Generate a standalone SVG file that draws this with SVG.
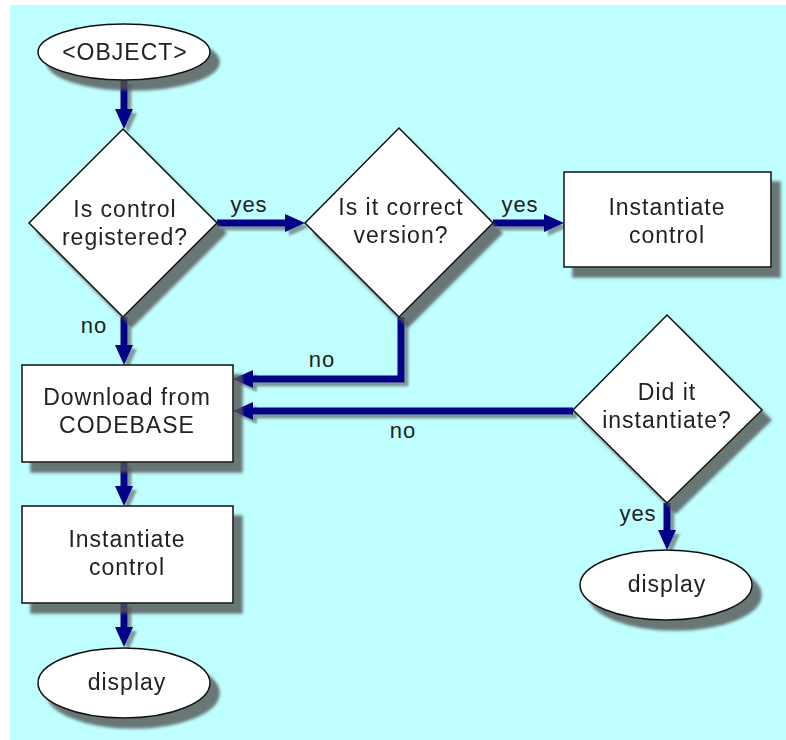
<svg xmlns="http://www.w3.org/2000/svg" width="786" height="740" viewBox="0 0 786 740">
<defs>
<style>
.node{fill:#fff;stroke:#111;stroke-width:1.5}
.t{font-family:"Liberation Sans",Arial,sans-serif;font-size:23px;letter-spacing:1px;fill:#222;text-anchor:middle}
.lbl{font-family:"Liberation Sans",Arial,sans-serif;font-size:22px;letter-spacing:1px;fill:#222;text-anchor:middle}
.conn{fill:none;stroke:#000088;stroke-width:7}
</style>
<filter id="sh" x="-20%" y="-20%" width="150%" height="150%">
<feDropShadow dx="9" dy="10" stdDeviation="1.5" flood-color="#555" flood-opacity="0.8"/>
</filter>
<filter id="shc" x="-20%" y="-20%" width="150%" height="150%">
<feDropShadow dx="4" dy="4" stdDeviation="1.2" flood-color="#555" flood-opacity="0.6"/>
</filter>
<marker id="ah" markerUnits="userSpaceOnUse" markerWidth="22" markerHeight="20" refX="8" refY="9" orient="auto">
<path d="M0,0 L20,9 L0,18 Z" fill="#000088"/>
</marker>
</defs>
<rect x="0" y="0" width="786" height="740" fill="#fff"/>
<rect x="10" y="5" width="776" height="735" fill="#bfffff"/>

<g id="connectors" filter="url(#shc)">
<path class="conn" d="M124,80 V117" marker-end="url(#ah)"/>
<path class="conn" d="M217,223 H293" marker-end="url(#ah)"/>
<path class="conn" d="M493,223 H552" marker-end="url(#ah)"/>
<path class="conn" d="M401,317 V379 H245" marker-end="url(#ah)"/>
<path class="conn" d="M573,411 H245" marker-end="url(#ah)"/>
<path class="conn" d="M124,317 V353" marker-end="url(#ah)"/>
<path class="conn" d="M124,462 V494" marker-end="url(#ah)"/>
<path class="conn" d="M124,603 V635" marker-end="url(#ah)"/>
<path class="conn" d="M667,503 V538" marker-end="url(#ah)"/>
</g>

<g id="labels">
<text class="lbl" x="249" y="212">yes</text>
<text class="lbl" x="520" y="212">yes</text>
<text class="lbl" x="94" y="333">no</text>
<text class="lbl" x="322" y="367">no</text>
<text class="lbl" x="403" y="438">no</text>
<text class="lbl" x="638" y="521">yes</text>
</g>

<g id="start" filter="url(#sh)">
<ellipse class="node" cx="124" cy="52" rx="86" ry="28"/>
<text class="t" x="125" y="60">&lt;OBJECT&gt;</text>
</g>

<g id="registered" filter="url(#sh)">
<polygon class="node" points="123,129 217,223 123,317 29,223"/>
<text class="t" x="125" y="217">Is control</text>
<text class="t" x="125" y="245">registered?</text>
</g>

<g id="version" filter="url(#sh)">
<polygon class="node" points="399,128 493,223 399,317 305,223"/>
<text class="t" x="401" y="215">Is it correct</text>
<text class="t" x="401" y="243">version?</text>
</g>

<g id="instantiate1" filter="url(#sh)">
<rect class="node" x="564" y="172" width="207" height="95"/>
<text class="t" x="667" y="215">Instantiate</text>
<text class="t" x="667" y="243">control</text>
</g>

<g id="download" filter="url(#sh)">
<rect class="node" x="22" y="365" width="211" height="97"/>
<text class="t" x="127" y="405">Download from</text>
<text class="t" x="127" y="433">CODEBASE</text>
</g>

<g id="didit" filter="url(#sh)">
<polygon class="node" points="667,315 762,410 667,503 573,410"/>
<text class="t" x="667" y="400">Did it</text>
<text class="t" x="667" y="428">instantiate?</text>
</g>

<g id="display2" filter="url(#sh)">
<ellipse class="node" cx="666" cy="585" rx="86" ry="35"/>
<text class="t" x="667" y="592">display</text>
</g>

<g id="instantiate2" filter="url(#sh)">
<rect class="node" x="22" y="506" width="211" height="97"/>
<text class="t" x="127" y="547">Instantiate</text>
<text class="t" x="127" y="575">control</text>
</g>

<g id="display1" filter="url(#sh)">
<ellipse class="node" cx="124" cy="683" rx="86" ry="35"/>
<text class="t" x="127" y="690">display</text>
</g>
</svg>
